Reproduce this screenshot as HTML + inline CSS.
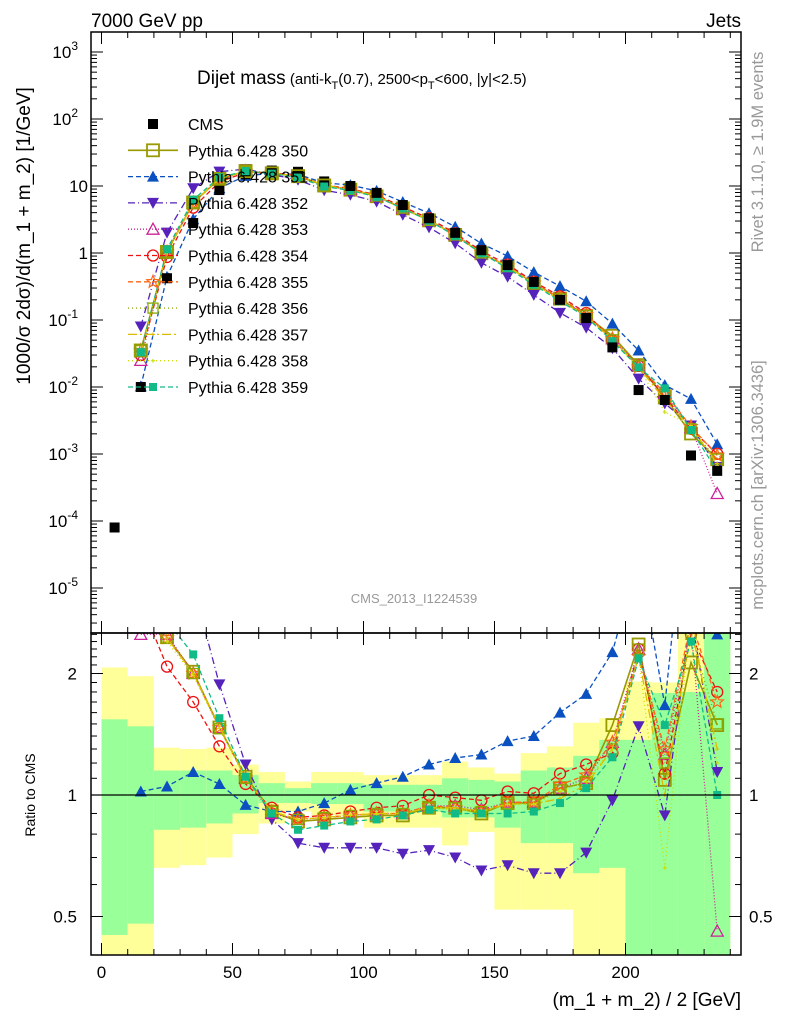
<!DOCTYPE html>
<html><head><meta charset="utf-8"><style>
html,body{margin:0;padding:0;background:#fff}
svg{display:block;font-family:"Liberation Sans","DejaVu Sans",sans-serif}
</style></head><body>
<svg id="c" width="786" height="1024" viewBox="0 0 786 1024" xmlns="http://www.w3.org/2000/svg">
<defs>
<clipPath id="clipTop"><rect x="91" y="32" width="650" height="601"/></clipPath>
<clipPath id="clipBot"><rect x="91" y="633" width="650" height="322"/></clipPath>
</defs>
<g id="bands" clip-path="url(#clipBot)"></g>
<g id="lines"></g>
<rect x="91" y="32" width="650" height="601" fill="none" stroke="#000" stroke-width="1.5"/>
<rect x="91" y="633" width="650" height="322" fill="none" stroke="#000" stroke-width="1.5"/>
<g id="ticks" stroke="#000" stroke-width="1"></g>
<text x="91" y="27" font-size="19">7000 GeV pp</text>
<text x="741" y="27" font-size="19" text-anchor="end">Jets</text>
<text x="197" y="84" font-size="19">Dijet mass<tspan font-size="15"> (anti-k<tspan font-size="11" dy="5">T</tspan><tspan dy="-5">(0.7), 2500&lt;p</tspan><tspan font-size="11" dy="5">T</tspan><tspan dy="-5">&lt;600, |y|&lt;2.5)</tspan></tspan></text>
<text x="414" y="603" font-size="13" fill="#999" text-anchor="middle">CMS_2013_I1224539</text>
<text transform="translate(763,152) rotate(-90)" font-size="16.5" fill="#999" text-anchor="middle">Rivet 3.1.10, ≥ 1.9M events</text>
<text transform="translate(763,485) rotate(-90)" font-size="16.5" fill="#999" text-anchor="middle">mcplots.cern.ch [arXiv:1306.3436]</text>
<text transform="translate(30,236) rotate(-90)" font-size="19" text-anchor="middle">1000/σ 2dσ)/d(m_1 + m_2) [1/GeV]</text>
<text transform="translate(35,795) rotate(-90)" font-size="14" text-anchor="middle">Ratio to CMS</text>
<text x="741" y="1006" font-size="19" text-anchor="end">(m_1 + m_2) / 2 [GeV]</text>
<g id="legend"></g>
</svg>
<script>
const xs = [15,25,35,45,55,65,75,85,95,105,115,125,135,145,155,165,175,185,195,205,215,225,235];
const cmsValues = [0.01,0.42,2.8,8.7,15,17,16.3,11.7,10,7.9,5.2,3.3,2.0,1.1,0.66,0.37,0.2,0.107,0.039,0.009,0.0064,0.00095,0.00056];
const cmsFirstX = 5;
const cmsFirstValue = 8e-5;
const r350 = [3.5,2.46,2.02,1.47,1.11,0.91,0.86,0.87,0.88,0.89,0.89,0.93,0.93,0.90,0.955,0.955,1.04,1.07,1.49,2.36,1.09,2.13,1.49];
const r351 = [1.02,1.05,1.14,1.065,0.945,0.91,0.91,0.955,1.03,1.07,1.11,1.19,1.235,1.26,1.36,1.40,1.60,1.78,2.26,3.9,1.67,7.0,2.5];
const r352 = [8,4.8,3.3,1.88,1.19,0.87,0.76,0.74,0.74,0.74,0.715,0.73,0.70,0.65,0.67,0.64,0.64,0.72,0.97,1.48,0.89,2.8,1.14];
const r353 = [2.5,2.5,2.0,1.47,1.1,0.9,0.87,0.88,0.89,0.90,0.90,0.94,0.94,0.92,0.96,0.96,1.04,1.1,1.35,2.3,1.26,2.6,0.46];
const r354 = [3.0,2.08,1.70,1.32,1.065,0.93,0.88,0.89,0.91,0.93,0.94,1.0,0.985,0.97,1.02,1.01,1.13,1.19,1.27,2.3,1.13,2.5,1.8];
const r355 = [3.5,2.45,2.0,1.47,1.1,0.91,0.87,0.88,0.89,0.90,0.90,0.94,0.93,0.91,0.96,0.96,1.06,1.12,1.35,2.2,1.3,2.7,1.70];
const r356 = [3.5,2.45,2.0,1.46,1.1,0.91,0.87,0.88,0.89,0.90,0.90,0.93,0.93,0.91,0.95,0.95,1.03,1.08,1.3,2.3,1.2,2.5,1.5];
const r357 = [3.4,2.45,2.0,1.48,1.1,0.91,0.87,0.88,0.89,0.90,0.90,0.93,0.93,0.91,0.95,0.95,0.98,1.06,1.3,2.2,1.0,2.6,1.3];
const r358 = [3.0,2.4,1.98,1.46,1.1,0.91,0.87,0.88,0.89,0.90,0.90,0.93,0.92,0.91,0.95,0.95,1.02,1.08,1.3,2.2,0.66,2.8,1.2];
const r359 = [3.3,2.7,2.23,1.55,1.11,0.90,0.82,0.84,0.86,0.87,0.89,0.92,0.90,0.90,0.90,0.91,0.955,1.04,1.24,2.18,1.49,2.4,1.0];
const bandEdges = [0,10,20,30,40,50,60,70,80,90,100,110,120,130,140,150,160,170,180,190,200,210,220,230,240];
const yellowHi = [2.07,1.97,1.31,1.30,1.31,1.19,1.14,1.08,1.14,1.14,1.12,1.12,1.12,1.21,1.17,1.13,1.27,1.32,1.51,1.55,1.91,1.90,2.6,2.6];
const yellowLo = [0.38,0.35,0.66,0.67,0.70,0.80,0.85,0.91,0.89,0.89,0.83,0.83,0.83,0.75,0.81,0.52,0.52,0.52,0.35,0.35,0.35,0.35,0.35,0.35];
const greenHi = [1.54,1.48,1.15,1.15,1.15,1.12,1.07,1.04,1.07,1.07,1.06,1.06,1.06,1.10,1.09,1.08,1.15,1.17,1.25,1.37,1.37,1.79,1.8,2.6];
const greenLo = [0.45,0.48,0.82,0.83,0.85,0.90,0.955,0.955,0.95,0.95,0.91,0.91,0.91,0.88,0.88,0.83,0.76,0.76,0.64,0.66,0.35,0.35,0.35,0.35];
const seriesNames = ["350","351","352","353","354","355","356","357","358","359"];
const xTickLabels = ["0","50","100","150","200"];
const yTickExps = [3,2,1,0,-1,-2,-3,-4,-5];
const ratioTickLabels = ["0.5","1","2"];

const NS="http://www.w3.org/2000/svg";
const svg=document.getElementById('c');
const FL=91;
const X=v=>101.5+v*2.62;
const YT=v=>253-67*Math.log10(v);
const YR=r=>795-121.5*Math.log2(r);
function mk(tag,attrs,parent){const e=document.createElementNS(NS,tag);for(const k in attrs)e.setAttribute(k,attrs[k]);(parent||svg).appendChild(e);return e;}

const ratios=[r350,r351,r352,r353,r354,r355,r356,r357,r358,r359];
const styles=[
 {c:"#999900",d:"",m:"osq",w:1.6},
 {c:"#0a50c0",d:"5,3",m:"tu",w:1.3},
 {c:"#5522bb",d:"7,3,1,3",m:"td",w:1.3},
 {c:"#cc2299",d:"1,2",m:"otu",w:1.3},
 {c:"#ee1111",d:"5,3",m:"oc",w:1.3},
 {c:"#ff6611",d:"5,3",m:"star",w:1.3},
 {c:"#88aa00",d:"1,3",m:"osq2",w:1.3},
 {c:"#ddbb00",d:"9,3,2,3",m:"none",w:1.3},
 {c:"#ccdd00",d:"1,3",m:"none",w:1.3},
 {c:"#11bb88",d:"5,3",m:"fsq",w:1.3}];

function marker(g,type,x,y,c){
 let e=null;
 if(type==="osq"){e=mk('rect',{x:x-6,y:y-6,width:12,height:12,fill:"none",stroke:c,"stroke-width":1.8},g);}
 else if(type==="osq2"){e=mk('rect',{x:x-5,y:y-5,width:10,height:10,fill:"none",stroke:c,"stroke-width":1.3},g);}
 else if(type==="fsq"){e=mk('rect',{x:x-4,y:y-4,width:8,height:8,fill:c},g);}
 else if(type==="cms"){e=mk('rect',{x:x-5,y:y-5,width:10,height:10,fill:"#000"},g);}
 else if(type==="tu"){e=mk('polygon',{points:`${x},${y-6} ${x-6},${y+5} ${x+6},${y+5}`,fill:c},g);}
 else if(type==="td"){e=mk('polygon',{points:`${x},${y+6} ${x-6},${y-5} ${x+6},${y-5}`,fill:c},g);}
 else if(type==="otu"){e=mk('polygon',{points:`${x},${y-6} ${x-6},${y+5} ${x+6},${y+5}`,fill:"none",stroke:c,"stroke-width":1.3},g);}
 else if(type==="oc"){e=mk('circle',{cx:x,cy:y,r:5.5,fill:"none",stroke:c,"stroke-width":1.3},g);}
 else if(type==="star"){let p=[];for(let i=0;i<10;i++){const a=-Math.PI/2+i*Math.PI/5,rr=i%2?2.8:6.5;p.push((x+rr*Math.cos(a)).toFixed(1)+","+(y+rr*Math.sin(a)).toFixed(1));}e=mk('polygon',{points:p.join(" "),fill:"none",stroke:c,"stroke-width":1.2},g);}
 else if(type==="none"){e=mk('path',{d:`M${x-2},${y}h4M${x},${y-2}v4`,stroke:c,"stroke-width":1},g);}
 if(e){


 }
 return e;
}

const bandG=document.getElementById('bands');
for(let i=0;i<yellowHi.length;i++){
 const x0=X(bandEdges[i]),x1=X(bandEdges[i+1]);
 const yb=mk('rect',{x:x0,y:YR(yellowHi[i]),width:x1-x0,height:YR(yellowLo[i])-YR(yellowHi[i]),fill:"#ffff99"},bandG);


 const gb=mk('rect',{x:x0,y:YR(greenHi[i]),width:x1-x0,height:YR(greenLo[i])-YR(greenHi[i]),fill:"#99ff99"},bandG);


}
const one=mk('line',{x1:FL,x2:741,y1:YR(1),y2:YR(1),stroke:"#000","stroke-width":1.3});



const linesG=document.getElementById('lines');
const topG=mk('g',{"clip-path":"url(#clipTop)"},linesG);


const botG=mk('g',{"clip-path":"url(#clipBot)"},linesG);


ratios.forEach((r,si)=>{
 const s=styles[si];
 const gt=mk('g',{},topG);


 const ptsT=xs.map((x,i)=>[X(x),YT(cmsValues[i]*r[i])]);
 const lt=mk('polyline',{points:ptsT.map(p=>p.map(v=>v.toFixed(1)).join(",")).join(" "),fill:"none",stroke:s.c,"stroke-width":s.w,"stroke-dasharray":s.d},gt);


 ptsT.forEach(p=>marker(gt,s.m,p[0],p[1],s.c));
 const gb=mk('g',{},botG);


 const ptsB=xs.map((x,i)=>[X(x),YR(r[i])]);
 const lb=mk('polyline',{points:ptsB.map(p=>p.map(v=>v.toFixed(1)).join(",")).join(" "),fill:"none",stroke:s.c,"stroke-width":s.w,"stroke-dasharray":s.d},gb);


 ptsB.forEach(p=>marker(gb,s.m,p[0],p[1],s.c));
});
const cmsG=mk('g',{},topG);


marker(cmsG,"cms",X(cmsFirstX),YT(cmsFirstValue),"#000");
xs.forEach((x,i)=>marker(cmsG,"cms",X(x),YT(cmsValues[i]),"#000"));
[0,9].forEach(si=>{const s=styles[si];xs.forEach((x,i)=>{if(i<8)marker(topG,s.m,X(x),YT(cmsValues[i]*ratios[si][i]),s.c);});});

const tg=document.getElementById('ticks');
function tick(x1,y1,x2,y2){const l=mk('line',{x1,y1,x2,y2},tg);

}
for(let v=0;v<=240;v+=10){const x=X(v);const L=v%50===0?12:6;
 tick(x,633,x,633-L);tick(x,32,x,32+L);tick(x,955,x,955-L);tick(x,633,x,633+L);}
xTickLabels.forEach(t=>{const e=mk('text',{x:X(+t),y:978,"font-size":17,"text-anchor":"middle"});e.textContent=t;

});
for(let e=-6;e<=3;e++){for(let m=1;m<10;m++){const v=m*Math.pow(10,e);const y=YT(v);if(y<32||y>633)continue;const L=m===1?12:6;tick(FL,y,FL+L,y);tick(741,y,741-L,y);}}
yTickExps.forEach(ex=>{const y=YT(Math.pow(10,ex));const t=mk('text',{x:(ex===1||ex===0)?88:78,y:y+6,"font-size":17,"text-anchor":"end"});


 if(ex===1)t.textContent="10";else if(ex===0)t.textContent="1";else{t.textContent="10";const s=mk('tspan',{dy:-8,"font-size":12},t);s.textContent=String(ex);}
});
for(let r=0.4;r<=2.55;r+=0.1){const y=YR(r);if(y<633||y>955)continue;const maj=[0.5,1,2].some(m=>Math.abs(m-r)<1e-6);const L=maj?12:6;tick(FL,y,FL+L,y);tick(741,y,741-L,y);}
ratioTickLabels.forEach(t=>{const y=YR(+t)+6;
 const a=mk('text',{x:77,y,"font-size":17,"text-anchor":"end"});a.textContent=t;


 const b=mk('text',{x:749,y,"font-size":17});b.textContent=t;

});

const lg=document.getElementById('legend');


const rowY=i=>124+i*26.3;
{const y=rowY(0);marker(lg,"cms",153,y,"#000");const t=mk('text',{x:188,y:y+6,"font-size":16},lg);t.textContent="CMS";

}
seriesNames.forEach((n,i)=>{const s=styles[i];const y=rowY(i+1);
 const l=mk('line',{x1:128,x2:178,y1:y,y2:y,stroke:s.c,"stroke-width":s.w,"stroke-dasharray":s.d},lg);


 marker(lg,s.m,153,y,s.c);
 const t=mk('text',{x:188,y:y+6,"font-size":16},lg);t.textContent="Pythia 6.428 "+n;

});
</script>
</body></html>
